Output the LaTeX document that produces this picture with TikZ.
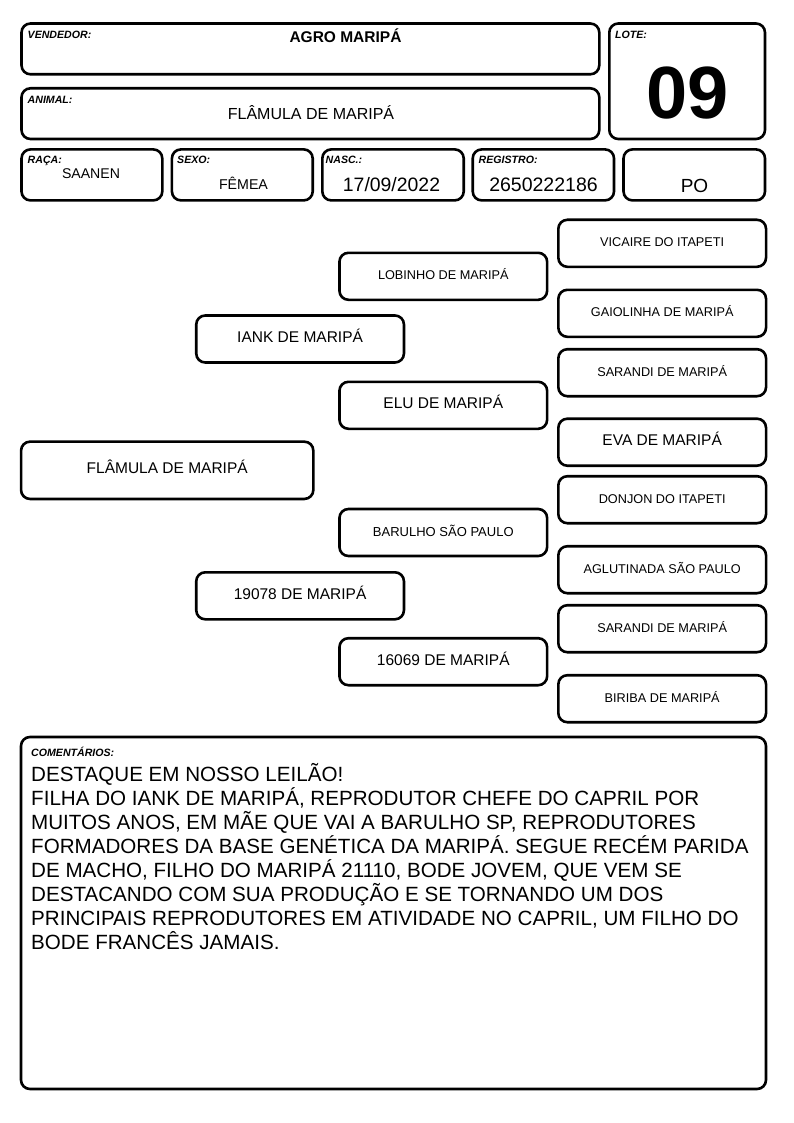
\documentclass[tikz,border=0pt]{standalone}
\usepackage{fontspec}
\setmainfont{Liberation Sans}
\newcommand\fsz[1]{\fontsize{#1}{1.2\dimexpr#1pt\relax}\selectfont}
\begin{document}
\begin{tikzpicture}[x=1pt,y=-1pt,
  boxline/.style={draw, line width=2.6pt, rounded corners=9pt, inner sep=0pt},
  hbox/.style={boxline, minimum height=51pt},
  pbox/.style={boxline, minimum width=207.7pt, minimum height=47pt, text height=0.72em, text depth=0pt},
  lab/.style={anchor=base west, inner sep=0pt, font=\fsz{10.6}\bfseries\itshape},
  val/.style={anchor=base, inner sep=0pt},
  sm/.style={font=\fsz{12.7}},
  big/.style={font=\fsz{15.5}}]
\useasboundingbox (0,0) rectangle (794,1123);

% header boxes
\node[hbox, minimum width=577.8pt, minimum height=50.8pt] (vend) at (310.4,48.9) {};
\node[hbox, minimum width=577.8pt, minimum height=50.7pt] (animal) at (310.4,113.65) {};
\node[boxline, minimum width=155.7pt, minimum height=115.5pt] (lote) at (687.15,81.25) {};
\node[hbox, minimum width=140.8pt] (raca) at (91.9,174.9) {};
\node[hbox, minimum width=140.8pt] (sexo) at (242.3,174.9) {};
\node[hbox, minimum width=141.4pt] (nasc) at (393,174.9) {};
\node[hbox, minimum width=141.3pt] (reg) at (543.35,174.9) {};
\node[hbox, minimum width=141.5pt] (po) at (694.25,174.9) {};

% header texts
\node[lab] (tvend) at (27.5,39) {VENDEDOR:};
\node[val, font=\fsz{15.5}\bfseries] (vvend) at (345.5,42.5) {AGRO MARIPÁ};
\node[lab] (tanimal) at (27.5,103.5) {ANIMAL:};
\node[val, font=\fsz{16}] (vanimal) at (311,119.5) {FLÂMULA DE MARIPÁ};
\node[lab] (tlote) at (615,39) {LOTE:};
\node[val, font=\fsz{74}\bfseries] (vlote) at (687.5,119) {09};
\node[lab] (traca) at (27.5,163.5) {RAÇA:};
\node[val, font=\fsz{14.1}] (vraca) at (91,178.5) {SAANEN};
\node[lab] (tsexo) at (177,163.5) {SEXO:};
\node[val, font=\fsz{14.2}] (vsexo) at (243.5,189.5) {FÊMEA};
\node[lab] (tnasc) at (325.5,163.5) {NASC.:};
\node[val, font=\fsz{19.4}] (vnasc) at (391.5,192) {17/09/2022};
\node[lab] (treg) at (478.5,164) {REGISTRO:};
\node[val, font=\fsz{19.5}] (vreg) at (543.5,192) {2650222186};
\node[val, font=\fsz{19}] (vpo) at (694.5,193) {PO};

% pedigree
\node[pbox, big, minimum width=292.3pt, minimum height=57.3pt] (an) at (167.2,470.3) {FLÂMULA DE MARIPÁ};
\node[pbox, big] (p1) at (300.1,339) {IANK DE MARIPÁ};
\node[pbox, big] (p2) at (300.1,595.8) {19078 DE MARIPÁ};
\node[pbox, sm] (g1) at (443.3,276.3) {LOBINHO DE MARIPÁ};
\node[pbox, big] (g2) at (443.3,405.3) {ELU DE MARIPÁ};
\node[pbox, font=\fsz{13}] (g3) at (443.3,532.5) {BARULHO SÃO PAULO};
\node[pbox, big] (g4) at (443.3,661.7) {16069 DE MARIPÁ};
\node[pbox, sm] (b1) at (662.2,243.3) {VICAIRE DO ITAPETI};
\node[pbox, sm] (b2) at (662.2,313.3) {GAIOLINHA DE MARIPÁ};
\node[pbox, sm] (b3) at (662.2,372.7) {SARANDI DE MARIPÁ};
\node[pbox, big] (b4) at (662.2,442.2) {EVA DE MARIPÁ};
\node[pbox, sm] (b5) at (662.2,499.7) {DONJON DO ITAPETI};
\node[pbox, sm] (b6) at (662.2,569.7) {AGLUTINADA SÃO PAULO};
\node[pbox, sm] (b7) at (662.2,628.7) {SARANDI DE MARIPÁ};
\node[pbox, sm] (b8) at (662.2,698.7) {BIRIBA DE MARIPÁ};

% comments
\node[boxline, minimum width=745pt, minimum height=352pt] (com) at (393.5,913) {};
\node[lab] (tcom) at (31,756.7) {COMENTÁRIOS:};
\begin{scope}[every node/.style={anchor=base west, inner sep=0pt, font=\fsz{20.6}}]
\node (c1) at (31,781) {DESTAQUE EM NOSSO LEILÃO!};
\node (c2) at (31,805) {FILHA DO IANK DE MARIPÁ, REPRODUTOR CHEFE DO CAPRIL POR};
\node (c3) at (31,829) {MUITOS ANOS, EM MÃE QUE VAI A BARULHO SP, REPRODUTORES};
\node (c4) at (31,853) {FORMADORES DA BASE GENÉTICA DA MARIPÁ. SEGUE RECÉM PARIDA};
\node (c5) at (31,877) {DE MACHO, FILHO DO MARIPÁ 21110, BODE JOVEM, QUE VEM SE};
\node (c6) at (31,901) {DESTACANDO COM SUA PRODUÇÃO E SE TORNANDO UM DOS};
\node (c7) at (31,925) {PRINCIPAIS REPRODUTORES EM ATIVIDADE NO CAPRIL, UM FILHO DO};
\node (c8) at (31,949) {BODE FRANCÊS JAMAIS.};
\end{scope}
\end{tikzpicture}
\end{document}
